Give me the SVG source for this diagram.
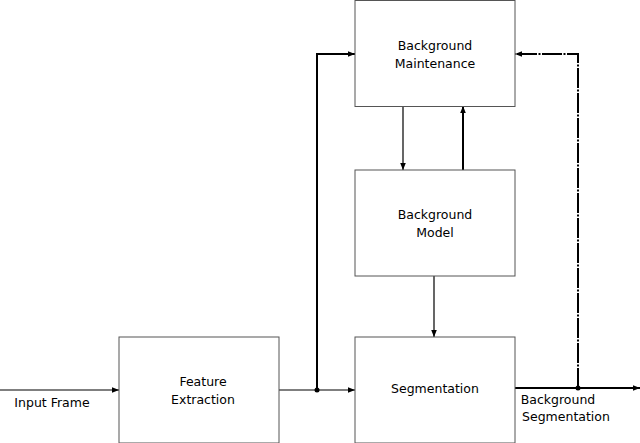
<svg xmlns="http://www.w3.org/2000/svg" width="640" height="443" viewBox="0 0 640 443">
<style>
.box{fill:#fff;stroke:#555;stroke-width:1}
.t{font-family:"DejaVu Sans",sans-serif;font-size:12.5px;fill:#000;text-anchor:middle}
.l{stroke:#000;fill:none;stroke-width:1.2}
.th{stroke:#000;fill:none;stroke-width:2}
</style>
<defs>
<marker id="a" viewBox="0 0 10 10" refX="10" refY="5" markerWidth="7" markerHeight="7" markerUnits="userSpaceOnUse" orient="auto"><path d="M0,1 L10,5 L0,9 z" fill="#000"/></marker>
</defs>
<g id="connectors">
<line class="l" x1="0" y1="390" x2="119" y2="390" marker-end="url(#a)"/>
<line class="l" x1="279" y1="390" x2="355" y2="390" marker-end="url(#a)"/>
<polyline class="th" points="317,390 317,54 355,54" marker-end="url(#a)"/>
<circle cx="317" cy="390" r="2.5"/>
<line class="l" x1="403" y1="106" x2="403" y2="170" marker-end="url(#a)"/>
<line class="th" x1="463" y1="170" x2="463" y2="106" marker-end="url(#a)"/>
<line class="l" x1="434" y1="276" x2="434" y2="337" marker-end="url(#a)"/>
<line class="th" x1="515" y1="388" x2="640" y2="388" marker-end="url(#a)"/>
<circle cx="578" cy="388" r="2.5"/>
<polyline class="th" points="578,388 578,54 515,54" stroke-dasharray="20,1.5,2,1.5" marker-end="url(#a)"/>
</g>
<g id="maintenance"><rect class="box" x="355" y="0.5" width="160" height="106"/><text class="t" x="435" y="50">Background</text><text class="t" x="435" y="68">Maintenance</text></g>
<g id="model"><rect class="box" x="355" y="170" width="160" height="106"/><text class="t" x="435" y="219">Background</text><text class="t" x="435" y="237">Model</text></g>
<g id="feature"><rect class="box" x="119" y="337" width="160" height="106"/><text class="t" x="203" y="386">Feature</text><text class="t" x="203" y="404">Extraction</text></g>
<g id="segmentation"><rect class="box" x="355" y="337" width="160" height="106"/><text class="t" x="435" y="393">Segmentation</text></g>
<g id="labels"><text class="t" x="52" y="407">Input Frame</text><text class="t" x="558" y="404">Background</text><text class="t" x="566" y="421">Segmentation</text></g>
</svg>
